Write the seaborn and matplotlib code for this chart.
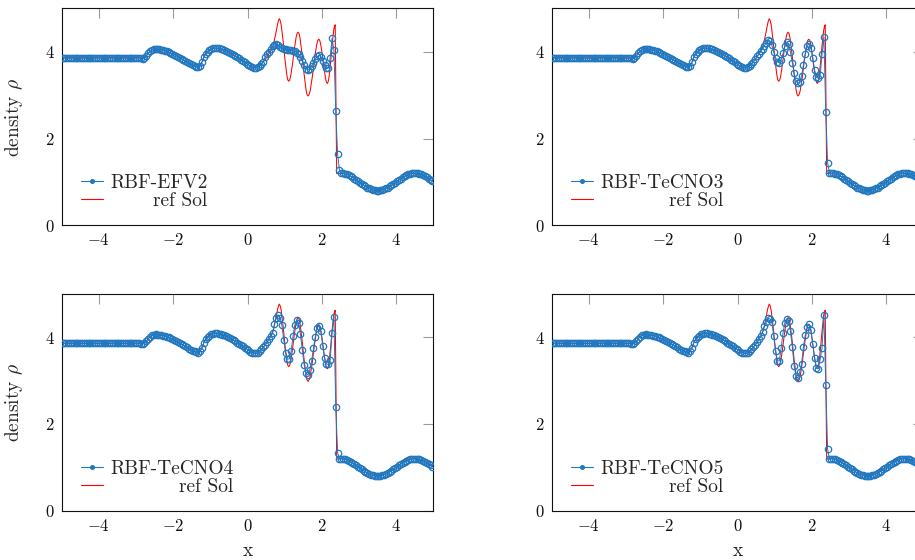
import numpy as np
import pandas as pd
import matplotlib
matplotlib.use("Agg")
import matplotlib.pyplot as plt
import seaborn as sns
from matplotlib.lines import Line2D

# ---------------- data ----------------
# cell centres of the 200-cell grid on [-5, 5]
n_cells = 200
# smooth pre-shock region (shared by all methods and the reference)
rho_plateau = [3.857] * 42          # x = -4.975 ... -2.925
rho_left = [                        # x = -2.875 ... 0.425
    3.852, 3.842, 3.855, 3.90, 3.96, 4.01, 4.04, 4.055, 4.06, 4.058,
    4.053, 4.045, 4.035, 4.022, 4.008, 3.993, 3.975, 3.955, 3.935, 3.912,
    3.888, 3.862, 3.837, 3.812, 3.787, 3.762, 3.737, 3.712, 3.69, 3.67,
    3.652, 3.645, 3.67, 3.76, 3.87, 3.95, 4.00, 4.035, 4.06, 4.075,
    4.083, 4.083, 4.075, 4.065, 4.053, 4.038, 4.02, 4.00, 3.978, 3.953,
    3.928, 3.903, 3.875, 3.845, 3.815, 3.785, 3.755, 3.725, 3.695, 3.668,
    3.645, 3.63, 3.625, 3.64, 3.675, 3.72, 3.77,
]
# smooth post-shock region, x = 2.525 ... 4.975
rho_right = [
    1.199, 1.194, 1.185, 1.171, 1.152, 1.130, 1.105, 1.077, 1.047, 1.016,
    0.984, 0.953, 0.923, 0.895, 0.870, 0.848, 0.829, 0.815, 0.806, 0.801,
    0.801, 0.806, 0.815, 0.829, 0.848, 0.870, 0.895, 0.923, 0.953, 0.984,
    1.016, 1.047, 1.077, 1.105, 1.130, 1.152, 1.171, 1.185, 1.194, 1.199,
    1.199, 1.194, 1.185, 1.171, 1.152, 1.130, 1.105, 1.077, 1.047, 1.016,
]
# reference solution in the oscillatory zone (finer sampling)
ref_mid_x = [
    0.475, 0.525, 0.575, 0.625, 0.675, 0.725, 0.775, 0.81, 0.835, 0.855,
    0.88, 0.906, 0.957, 1.008, 1.059, 1.085, 1.11, 1.135, 1.16, 1.21,
    1.26, 1.31, 1.335, 1.36, 1.387, 1.414, 1.468, 1.522, 1.576, 1.603,
    1.63, 1.66, 1.688, 1.746, 1.804, 1.862, 1.89, 1.92, 1.943, 1.966,
    2.012, 2.058, 2.104, 2.127, 2.15, 2.171, 2.192, 2.234, 2.276, 2.318,
    2.34, 2.36, 2.40, 2.45, 2.475,
]
ref_mid_y = [
    3.82, 3.88, 3.95, 4.02, 4.11, 4.27, 4.48, 4.64, 4.72, 4.76,
    4.72, 4.62, 4.26, 3.82, 3.46, 3.35, 3.32, 3.35, 3.43, 3.71,
    4.06, 4.34, 4.42, 4.45, 4.42, 4.31, 3.94, 3.49, 3.12, 3.01,
    2.98, 3.02, 3.105, 3.43, 3.84, 4.165, 4.26, 4.29, 4.26, 4.19,
    3.94, 3.62, 3.37, 3.29, 3.27, 3.31, 3.40, 3.74, 4.15, 4.49,
    4.58, 4.62, 1.19, 1.198, 1.199,
]
ref_edge_x = [-5.0, 5.0]
ref_edge_y = [3.857, 1.0]

# numerical solutions in the oscillatory zone, x = 0.475 ... 2.475
efv2_mid = [
    3.88, 3.94, 4.00, 4.06, 4.12, 4.16, 4.17, 4.15, 4.11, 4.08,
    4.07, 4.06, 4.05, 4.04, 4.03, 4.02, 4.01, 3.97, 3.94, 3.88,
    3.79, 3.69, 3.61, 3.58, 3.60, 3.66, 3.75, 3.83, 3.89, 3.92,
    3.88, 3.79, 3.70, 3.63, 3.62, 3.86, 4.31, 4.04, 2.63, 1.64,
    1.27,
]
tecno3_mid = [
    3.83, 3.89, 3.95, 4.01, 4.07, 4.14, 4.21, 4.26, 4.25, 4.15,
    3.99, 3.86, 3.77, 3.75, 3.82, 3.96, 4.12, 4.22, 4.18, 3.99,
    3.74, 3.50, 3.33, 3.27, 3.30, 3.45, 3.70, 3.95, 4.14, 4.18,
    4.09, 3.85, 3.58, 3.41, 3.39, 3.46, 3.95, 4.33, 2.61, 1.44,
    1.21,
]
tecno4_mid = [
    3.82, 3.88, 3.95, 4.02, 4.09, 4.30, 4.45, 4.51, 4.45, 4.27,
    3.94, 3.63, 3.49, 3.50, 3.68, 4.02, 4.29, 4.40, 4.32, 4.06,
    3.71, 3.36, 3.17, 3.13, 3.25, 3.44, 3.74, 4.01, 4.22, 4.25,
    4.13, 3.80, 3.52, 3.38, 3.37, 3.47, 4.10, 4.47, 2.40, 1.34,
    1.19,
]
tecno5_mid = [
    3.82, 3.88, 3.95, 4.02, 4.11, 4.25, 4.35, 4.43, 4.42, 4.35,
    4.02, 3.67, 3.45, 3.45, 3.75, 4.10, 4.33, 4.42, 4.38, 4.13,
    3.78, 3.33, 3.10, 3.06, 3.20, 3.39, 3.78, 4.05, 4.24, 4.30,
    4.17, 3.83, 3.52, 3.29, 3.27, 3.49, 3.75, 4.52, 2.90, 1.42,
    1.19,
]
method_names = ["RBF-EFV2", "RBF-TeCNO3", "RBF-TeCNO4", "RBF-TeCNO5"]
method_mids = [efv2_mid, tecno3_mid, tecno4_mid, tecno5_mid]
ref_label = "ref Sol"

x_ticks = [-4, -2, 0, 2, 4]
y_ticks = [0, 2, 4]

# ---------------- assemble ----------------
left_all = rho_plateau + rho_left
n_left, n_mid, n_right = len(left_all), len(efv2_mid), len(rho_right)
assert n_left + n_mid + n_right == n_cells, (n_left, n_mid, n_right)
for m in method_mids:
    assert len(m) == n_mid
assert len(ref_mid_x) == len(ref_mid_y)

x_cells = -5 + (np.arange(n_cells) + 0.5) * (10.0 / n_cells)
x_left = x_cells[:n_left]
x_right = x_cells[n_left + n_mid:]

ref_df = pd.DataFrame({
    "x": np.concatenate([[ref_edge_x[0]], x_left, ref_mid_x, x_right, [ref_edge_x[1]]]),
    "rho": np.concatenate([[ref_edge_y[0]], left_all, ref_mid_y, rho_right, [ref_edge_y[1]]]),
})

# ---------------- style ----------------
sns.set_style("white")
plt.rcParams["font.family"] = ["cmr10", "DejaVu Serif"]
plt.rcParams["mathtext.fontset"] = "cm"
plt.rcParams["axes.formatter.use_mathtext"] = True
plt.rcParams["axes.unicode_minus"] = True

blue = "#2078c0"
red = "#ff0000"
label_fs = 14

W, H = 915, 560
fig = plt.figure(figsize=(W / 100, H / 100), dpi=100)

ax_w = 371.6 / W
ax_h = 217.0 / H
lefts = [61.7 / W, 551.7 / W]
bottoms = [1 - 225.3 / H, 1 - 510.7 / H]

axes = []
for r in range(2):
    for c in range(2):
        axes.append(fig.add_axes([lefts[c], bottoms[r], ax_w, ax_h]))

for i, ax in enumerate(axes):
    mdf = pd.DataFrame({"x": x_cells,
                        "rho": np.concatenate([left_all, method_mids[i], rho_right])})
    sns.lineplot(data=mdf, x="x", y="rho", ax=ax, sort=False, estimator=None,
                 color=blue, lw=0.7, marker="o", markersize=4.6,
                 markerfacecolor="none", markeredgecolor=blue,
                 markeredgewidth=0.9, zorder=3, legend=False)
    sns.lineplot(data=ref_df, x="x", y="rho", ax=ax, sort=False, estimator=None,
                 color=red, lw=0.75, zorder=2, legend=False)

    ax.set_xlim(-5, 5)
    ax.set_ylim(0, 5)
    ax.set_xticks(x_ticks)
    ax.set_yticks(y_ticks)
    ax.tick_params(direction="in", top=True, right=True, length=7, width=0.8,
                   color="#9a9a9a", labelsize=12, pad=5, labelcolor="#111111")
    for s in ax.spines.values():
        s.set_color("#111111")
        s.set_linewidth(0.8)
    ax.set_xlabel("")
    ax.set_ylabel("")
    if i % 2 == 0:
        ax.set_ylabel(r"density $\rho$", fontsize=label_fs)
        ax.yaxis.set_label_coords(-0.099, 0.5)
    if i >= 2:
        ax.set_xlabel("x", fontsize=label_fs)
        ax.xaxis.set_label_coords(0.5, -0.145)

    handles = [Line2D([], [], color=blue, lw=0.8, marker="o", markersize=2.6,
                      markerfacecolor=blue, markeredgecolor=blue),
               Line2D([], [], color=red, lw=0.8)]
    leg = ax.legend(handles, [method_names[i], ref_label], loc="lower left",
                    bbox_to_anchor=(0.052, 0.07), frameon=False, fontsize=label_fs,
                    handlelength=1.13, handletextpad=0.36, labelspacing=0.0,
                    borderpad=0, borderaxespad=0)
    ax._my_leg = leg

# right-align the legend labels (as in the reference)
fig.canvas.draw()
for ax in axes:
    texts = ax._my_leg.get_texts()
    widths = [t.get_window_extent().width for t in texts]
    wmax = max(widths)
    for t, w in zip(texts, widths):
        t.set_position((wmax - w, 0))

fig.savefig("out.png", dpi=100)
